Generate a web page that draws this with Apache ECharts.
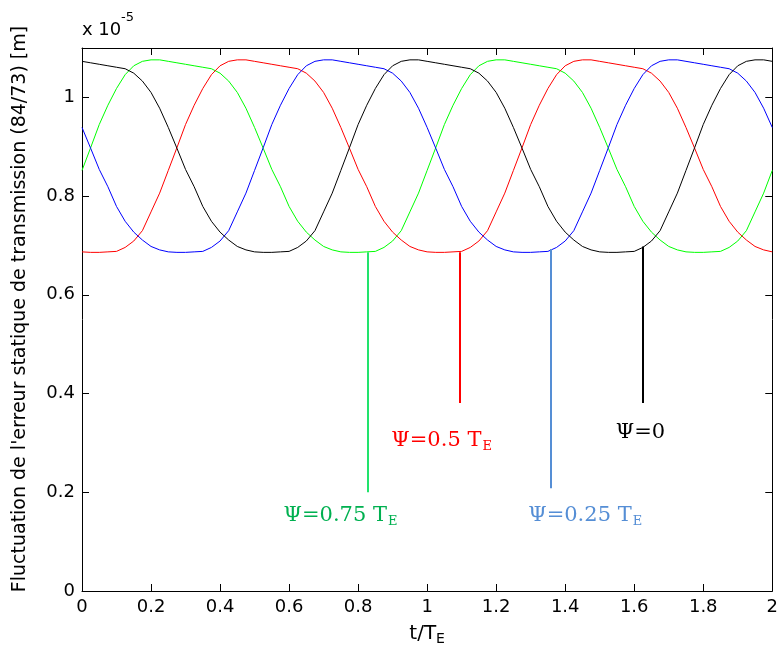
<!DOCTYPE html>
<html><head><meta charset="utf-8">
<script src="https://cdn.jsdelivr.net/npm/echarts@6/dist/echarts.min.js"></script>
<style>html,body{margin:0;padding:0;background:#fff}#c{width:781px;height:653px}</style>
</head><body><div id="c"></div>
<script>
// time axis t/T_E sampled every 0.025
const tValues = Array.from({length: 81}, (_, i) => +(i * 0.025).toFixed(3));

// values in units of 1e-5 m
const psi0 = [
1.073,1.070,1.067,1.064,1.061,1.058,1.049,1.033,1.010,0.978,
0.939,0.897,0.854,0.819,0.779,0.749,0.727,0.711,0.698,0.691,
0.687,0.686,0.686,0.687,0.688,0.696,0.709,0.730,0.768,0.806,
0.852,0.898,0.945,0.984,1.018,1.046,1.064,1.073,1.076,1.076,
1.073,1.070,1.067,1.064,1.061,1.058,1.049,1.033,1.010,0.978,
0.939,0.897,0.854,0.819,0.779,0.749,0.727,0.711,0.698,0.691,
0.687,0.686,0.686,0.687,0.688,0.696,0.709,0.730,0.768,0.806,
0.852,0.898,0.945,0.984,1.018,1.046,1.064,1.073,1.076,1.076,
1.073];
const psi025 = [
0.939,0.897,0.854,0.819,0.779,0.749,0.727,0.711,0.698,0.691,
0.687,0.686,0.686,0.687,0.688,0.696,0.709,0.730,0.768,0.806,
0.852,0.898,0.945,0.984,1.018,1.046,1.064,1.073,1.076,1.076,
1.073,1.070,1.067,1.064,1.061,1.058,1.049,1.033,1.010,0.978,
0.939,0.897,0.854,0.819,0.779,0.749,0.727,0.711,0.698,0.691,
0.687,0.686,0.686,0.687,0.688,0.696,0.709,0.730,0.768,0.806,
0.852,0.898,0.945,0.984,1.018,1.046,1.064,1.073,1.076,1.076,
1.073,1.070,1.067,1.064,1.061,1.058,1.049,1.033,1.010,0.978,
0.939];
const psi05 = [
0.687,0.686,0.686,0.687,0.688,0.696,0.709,0.730,0.768,0.806,
0.852,0.898,0.945,0.984,1.018,1.046,1.064,1.073,1.076,1.076,
1.073,1.070,1.067,1.064,1.061,1.058,1.049,1.033,1.010,0.978,
0.939,0.897,0.854,0.819,0.779,0.749,0.727,0.711,0.698,0.691,
0.687,0.686,0.686,0.687,0.688,0.696,0.709,0.730,0.768,0.806,
0.852,0.898,0.945,0.984,1.018,1.046,1.064,1.073,1.076,1.076,
1.073,1.070,1.067,1.064,1.061,1.058,1.049,1.033,1.010,0.978,
0.939,0.897,0.854,0.819,0.779,0.749,0.727,0.711,0.698,0.691,
0.687];
const psi075 = [
0.852,0.898,0.945,0.984,1.018,1.046,1.064,1.073,1.076,1.076,
1.073,1.070,1.067,1.064,1.061,1.058,1.049,1.033,1.010,0.978,
0.939,0.897,0.854,0.819,0.779,0.749,0.727,0.711,0.698,0.691,
0.687,0.686,0.686,0.687,0.688,0.696,0.709,0.730,0.768,0.806,
0.852,0.898,0.945,0.984,1.018,1.046,1.064,1.073,1.076,1.076,
1.073,1.070,1.067,1.064,1.061,1.058,1.049,1.033,1.010,0.978,
0.939,0.897,0.854,0.819,0.779,0.749,0.727,0.711,0.698,0.691,
0.687,0.686,0.686,0.687,0.688,0.696,0.709,0.730,0.768,0.806,
0.852];

// annotation segments [t, start value, end value]
const markGreen = [0.827, 0.686, 0.200];
const markRed   = [1.095, 0.686, 0.381];
const markBlue  = [1.358, 0.693, 0.208];
const markBlack = [1.625, 0.698, 0.381];
// annotation label anchors [t, value]
const labGreen = [0.749, 0.152];
const labRed   = [1.042, 0.304];
const labBlue  = [1.458, 0.152];
const labBlack = [1.618, 0.321];
const labelTexts = ['Ψ=0.75 T', 'Ψ=0.5 T', 'Ψ=0.25 T', 'Ψ=0'];

const pairs = arr => tValues.map((t, i) => [t, arr[i]]);
const serif = 'DejaVu Serif';
const sans = 'DejaVu Sans';

function mk(seg, col) {
  return {
    silent: true, symbol: ['none', 'none'], label: {show: false},
    lineStyle: {color: col, width: 2, type: 'solid'},
    emphasis: {disabled: true},
    data: [[{coord: [seg[0], seg[1]]}, {coord: [seg[0], seg[2]]}]]
  };
}
function mp(pos, txt, col, sub) {
  return {
    silent: true, symbol: 'circle', symbolSize: 0,
    itemStyle: {color: 'transparent'},
    label: {
      show: true, position: 'inside',
      formatter: sub ? '{m|' + txt + '}{s|E}' : '{m|' + txt + '}',
      rich: {
        m: {fontFamily: serif, fontSize: 21, color: col},
        s: {fontFamily: serif, fontSize: 13, color: col, padding: [12, 0, 0, 1]}
      }
    },
    data: [{coord: pos}]
  };
}

const tickFmt = v => {
  if (Math.abs(v * 5 - Math.round(v * 5)) > 1e-6) return '';
  return String(+v.toFixed(1));
};
const axisCommon = {
  type: 'value', interval: 0.2,
  axisLine: {show: true, onZero: false, lineStyle: {color: '#000', width: 1}},
  axisTick: {show: true, inside: true, length: 7, lineStyle: {color: '#000', width: 1}},
  splitLine: {show: false}
};

const chart = echarts.init(document.getElementById('c'));
chart.setOption({
  animation: false,
  backgroundColor: '#fff',
  grid: {left: 82, right: 8, top: 48, bottom: 62, containLabel: false},
  xAxis: [
    Object.assign({}, axisCommon, {
      min: 0, max: 2, position: 'bottom',
      axisLabel: {color: '#000', fontSize: 18, fontFamily: sans, margin: 7, formatter: tickFmt},
      name: '{a|t/T}{b|E}', nameLocation: 'middle', nameGap: 30,
      nameTextStyle: {rich: {
        a: {fontSize: 20, fontFamily: sans, color: '#000'},
        b: {fontSize: 14, fontFamily: sans, color: '#000', padding: [11, 0, 0, 0]}
      }}
    }),
    Object.assign({}, axisCommon, {min: 0, max: 2, position: 'top', axisLabel: {show: false}})
  ],
  yAxis: [
    Object.assign({}, axisCommon, {
      min: 0, max: 1.1, position: 'left',
      axisLabel: {color: '#000', fontSize: 18, fontFamily: sans, margin: 7, formatter: tickFmt}
    }),
    Object.assign({}, axisCommon, {min: 0, max: 1.1, position: 'right', axisLabel: {show: false}})
  ],
  graphic: [
    {type: 'text', x: 20, y: 309, rotation: Math.PI / 2,
     style: {text: "Fluctuation de l'erreur statique de transmission (84/73) [m]",
             font: '19px ' + sans, fill: '#000', align: 'center', verticalAlign: 'middle'}},
    {type: 'text', x: 82, y: 30,
     style: {text: 'x 10', font: '18px ' + sans, fill: '#000', align: 'left', verticalAlign: 'middle'}},
    {type: 'text', x: 121, y: 18,
     style: {text: '-5', font: '13px ' + sans, fill: '#000', align: 'left', verticalAlign: 'middle'}}
  ],
  series: [
    {name: 'psi075', type: 'line', data: pairs(psi075), showSymbol: false, symbol: 'none',
     lineStyle: {color: '#00ff00', width: 1}, itemStyle: {color: '#00ff00'},
     markLine: mk(markGreen, '#22e36c'), markPoint: mp(labGreen, labelTexts[0], '#00b050', true)},
    {name: 'psi05', type: 'line', data: pairs(psi05), showSymbol: false, symbol: 'none',
     lineStyle: {color: '#ff0000', width: 1}, itemStyle: {color: '#ff0000'},
     markLine: mk(markRed, '#ff0000'), markPoint: mp(labRed, labelTexts[1], '#ff0000', true)},
    {name: 'psi025', type: 'line', data: pairs(psi025), showSymbol: false, symbol: 'none',
     lineStyle: {color: '#0000ff', width: 1}, itemStyle: {color: '#0000ff'},
     markLine: mk(markBlue, '#558ed5'), markPoint: mp(labBlue, labelTexts[2], '#558ed5', true)},
    {name: 'psi0', type: 'line', data: pairs(psi0), showSymbol: false, symbol: 'none',
     lineStyle: {color: '#000000', width: 1}, itemStyle: {color: '#000000'},
     markLine: mk(markBlack, '#000000'), markPoint: mp(labBlack, labelTexts[3], '#000000', false)}
  ]
});
</script>
</body></html>
